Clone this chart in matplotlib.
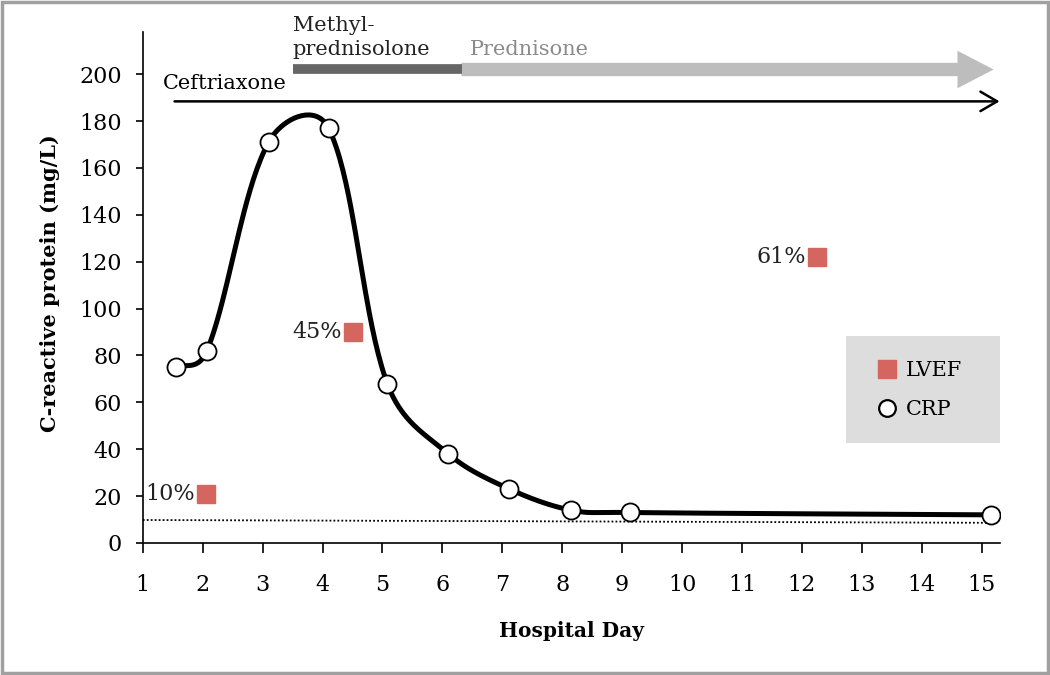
import matplotlib
matplotlib.use("Agg")
import matplotlib.pyplot as plt
from matplotlib.lines import Line2D
from matplotlib.patches import Rectangle
import numpy as np

plt.rcParams['font.family'] = ['DejaVu Serif']

# CRP measurements (hospital day, mg/L)
crp_day = [1.55, 2.07, 3.1, 4.1, 5.08, 6.1, 7.12, 8.15, 9.13, 15.15]
crp_val = [75, 82, 171, 177, 68, 38, 23, 14, 13, 12]

# LVEF echo results, drawn on the CRP scale
lvef_day = [2.05, 4.5, 12.25]
lvef_pos = [21, 90, 122]
lvef_lab = ['10%', '45%', '61%']

# dotted reference line
ref_day = [1.0, 15.2]
ref_val = [9.8, 8.6]

# treatment bars: (start day, end day, level)
ceftriaxone = (1.53, 15.3, 188.4)
methylpred = (3.5, 6.32, 202)
prednisone = (6.32, 15.2, 202)


def smooth(xs, ys, kx=60.0, ky=2.35, n=40):
    # excel-ish smoothed line: bezier segments, tangents scaled by segment lengths
    p = np.column_stack([np.array(xs) * kx, np.array(ys) * ky])
    p = np.vstack([p[0], p, p[-1]])
    seglen = np.r_[np.hypot(*np.diff(p, axis=0).T)]
    t = np.linspace(0, 1, n)[:, None]
    out = []
    for i in range(1, len(p) - 2):
        a, b = p[i], p[i + 1]
        L = seglen[i]
        f1 = 0.4 / 6 + 0.6 * L / (L + seglen[i - 1]) / 3
        f2 = 0.4 / 6 + 0.6 * L / (L + seglen[i + 1]) / 3
        c1 = a + (p[i + 1] - p[i - 1]) * f1
        c2 = b - (p[i + 2] - p[i]) * f2
        seg = (1 - t) ** 3 * a + 3 * (1 - t) ** 2 * t * c1 + 3 * (1 - t) * t ** 2 * c2 + t ** 3 * b
        out.append(seg)
    out = np.vstack(out)
    return out[:, 0] / kx, out[:, 1] / ky


fig = plt.figure(figsize=(10.5, 6.75), dpi=100)
ax = fig.add_axes([0.136, 0.1956, 0.816, 0.757])

ax.plot(ref_day, ref_val, color='black', lw=1.3, ls=(0, (1, 1.2)))

sx, sy = smooth(crp_day, crp_val)
ax.plot(sx, sy, color='black', lw=3.6, solid_capstyle='round', zorder=3)
ax.plot(crp_day, crp_val, 'o', ms=13, mfc='white', mec='black', mew=1.3, zorder=4)

red = '#d4665f'
ax.plot(lvef_day, lvef_pos, 's', ms=13.5, color=red, zorder=4, ls='none')
for d, v, s in zip(lvef_day, lvef_pos, lvef_lab):
    ax.annotate(s, (d, v), xytext=(-7.5, 0), textcoords='offset points',
                ha='right', va='center', fontsize=16, color='#222222')

# Ceftriaxone arrow
ax.annotate('', xy=(ceftriaxone[1], ceftriaxone[2]), xytext=(ceftriaxone[0], ceftriaxone[2]),
            arrowprops=dict(arrowstyle='->,head_length=0.6,head_width=0.35', lw=1.8,
                            color='black', mutation_scale=20,
                            shrinkA=0, shrinkB=0), annotation_clip=False)
ax.text(1.33, ceftriaxone[2] + 3.5, 'Ceftriaxone', fontsize=15, ha='left', va='bottom',
        clip_on=False)

# steroid bars
ax.annotate('', xy=(prednisone[1], prednisone[2]), xytext=(prednisone[0], prednisone[2]),
            arrowprops=dict(arrowstyle='simple,head_length=1.3,head_width=1.35,tail_width=0.48',
                            color='#bdbdbd', ec='none', mutation_scale=20,
                            shrinkA=0, shrinkB=0), annotation_clip=False)
ax.plot([methylpred[0], methylpred[1]], [methylpred[2], methylpred[2]], color='#666666',
        lw=7, solid_capstyle='butt', clip_on=False, zorder=3)
ax.text(methylpred[0], methylpred[2] + 4.5, 'Methyl-\nprednisolone', fontsize=15,
        ha='left', va='bottom', linespacing=1.3, clip_on=False, color='#222222')
ax.text(6.46, methylpred[2] + 4.5, 'Prednisone', fontsize=15, ha='left', va='bottom',
        color='#8a8a8a', clip_on=False)

ax.set_xlim(1, 15.3)
ax.set_ylim(0, 218)
ax.set_xticks(range(1, 16))
ax.set_yticks(range(0, 201, 20))
ax.spines['top'].set_visible(False)
ax.spines['right'].set_visible(False)
ax.spines['left'].set_linewidth(1.2)
ax.spines['bottom'].set_linewidth(1.2)
ax.tick_params(axis='x', direction='out', length=7, width=1.2, pad=15, labelsize=16)
ax.tick_params(axis='y', direction='out', length=5, width=1.2, pad=10, labelsize=16)

ax.set_xlabel('Hospital Day', fontsize=14.5, fontweight='bold')
ax.set_ylabel('C-reactive protein (mg/L)', fontsize=15, fontweight='bold')
ax.xaxis.set_label_coords(0.5, -0.153)
ax.yaxis.set_label_coords(-0.097, 0.508)

# legend box
ax.add_patch(Rectangle((0.821, 0.195), 0.18, 0.21, transform=ax.transAxes,
                       facecolor='#dddddd', edgecolor='none', zorder=1, clip_on=False))
handles = [Line2D([], [], marker='s', ls='none', ms=13.5, color=red),
           Line2D([], [], marker='o', ls='none', ms=12, mfc='white', mec='black', mew=1.6)]
ax.legend(handles, ['LVEF', 'CRP'], loc='upper left', bbox_to_anchor=(0.858, 0.356),
          frameon=False, fontsize=15, handlelength=0.9, handletextpad=0.45,
          labelspacing=0.95, borderpad=0, borderaxespad=0)

# grey frame round the figure
fig.patches.append(Rectangle((0.002, 0.003), 0.996, 0.994, transform=fig.transFigure,
                             fill=False, edgecolor='#a0a0a0', lw=2.5))

fig.savefig('out.png', dpi=100)
